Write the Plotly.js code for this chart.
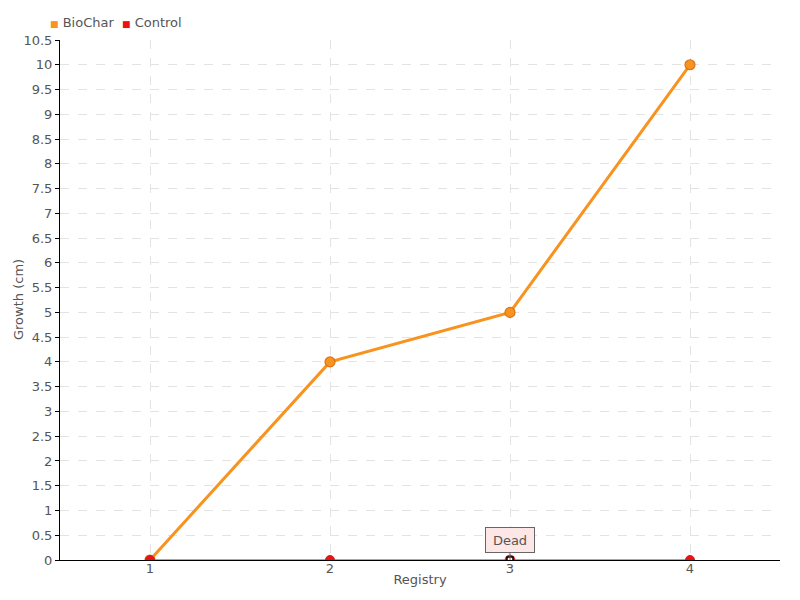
<!DOCTYPE html>
<html>
<head>
<meta charset="utf-8">
<script src="https://cdn.plot.ly/plotly-3.0.1.min.js"></script>
<style>body{margin:0;background:#fff}#chart{width:800px;height:600px}</style>
</head>
<body>
<div id="chart"></div>
<script>
var categories = [1, 2, 3, 4];
var biochar = [0, 4, 5, 10];
var control = [0, 0, 0, 0];
var seriesNames = ['BioChar', 'Control'];
var yTickVals = [];
for (var i = 0; i <= 21; i++) yTickVals.push(i * 0.5);
var yTickText = yTickVals.map(function(v){ return String(v); });
var xTitle = 'Registry';
var yTitle = 'Growth (cm)';
var annotationText = 'Dead';
var annotationIndex = 2;

var fontFam = '"DejaVu Sans", sans-serif';
var orange = '#f7931e';
var red = '#ee1111';
var txtColor = '#555555';
function fnt(sz){ return {family: fontFam, size: sz, color: txtColor, stretch: 'condensed'}; }

var traces = [
  {x: categories, y: control, mode: 'lines', line: {color: red, width: 1.2}, showlegend: false, hoverinfo: 'skip'},
  {x: categories, y: biochar, mode: 'lines+markers', name: seriesNames[0], line: {color: orange, width: 3},
   marker: {size: 10, color: orange, line: {color: '#d9741a', width: 1.2}}, showlegend: false},
  {x: categories, y: control, mode: 'markers', name: seriesNames[1],
   marker: {size: 9, color: red, line: {color: '#cc2222', width: 1}}, showlegend: false},
  {x: [categories[annotationIndex]], y: [control[annotationIndex]], mode: 'markers',
   marker: {size: 11, color: 'rgba(238,17,17,0.6)', line: {width: 0}}, showlegend: false, hoverinfo: 'skip'},
  {x: [categories[annotationIndex]], y: [control[annotationIndex]], mode: 'markers',
   marker: {size: 6, symbol: 'square', color: '#ffffff', line: {color: '#000000', width: 1.5}}, showlegend: false, hoverinfo: 'skip'}
];

var legendText = '<span style="color:' + orange + ';font-size:9px">■</span> ' + seriesNames[0] +
  '  <span style="color:' + red + ';font-size:9px">■</span> ' + seriesNames[1];

var layout = {
  width: 800, height: 600,
  margin: {l: 60, r: 20, t: 40, b: 40},
  paper_bgcolor: '#ffffff', plot_bgcolor: '#ffffff',
  font: fnt(13),
  showlegend: false,
  xaxis: {
    range: [0.5, 4.5], tickvals: categories, ticktext: categories.map(String),
    showline: true, linecolor: '#000000', linewidth: 1,
    showgrid: true, gridcolor: '#e3e3e3', griddash: 'dash', gridwidth: 1,
    zeroline: false, ticks: '', ticklen: 0, ticklabelstandoff: -4,
    tickfont: fnt(13),
    title: {text: xTitle, font: fnt(13), standoff: 0}
  },
  yaxis: {
    range: [0, 10.5], tickvals: yTickVals, ticktext: yTickText,
    showline: true, linecolor: '#000000', linewidth: 1,
    showgrid: true, gridcolor: '#e3e3e3', griddash: 'dash', gridwidth: 1,
    zeroline: false, ticks: 'outside', ticklen: 4, tickcolor: '#000000',
    tickfont: fnt(13)
  },
  annotations: [{
    x: categories[annotationIndex], y: control[annotationIndex], xref: 'x', yref: 'y',
    text: annotationText, showarrow: true, arrowhead: 0, arrowwidth: 1, arrowcolor: '#666666',
    ax: 0, ay: -20, bgcolor: '#fde6e6', bordercolor: '#666666', borderwidth: 1, borderpad: 4,
    width: 40, height: 16,
    font: fnt(13)
  }, {
    xref: 'paper', yref: 'paper', x: -0.017, y: 1, yshift: 18, xanchor: 'left', yanchor: 'middle',
    showarrow: false, text: legendText, font: fnt(13)
  }, {
    xref: 'paper', yref: 'paper', x: -0.0583, y: 0.5, xanchor: 'center', yanchor: 'middle',
    textangle: -90, showarrow: false, text: yTitle, font: fnt(13)
  }],
  hovermode: false
};

Plotly.newPlot('chart', traces, layout, {displayModeBar: false, staticPlot: true});
</script>
</body>
</html>
